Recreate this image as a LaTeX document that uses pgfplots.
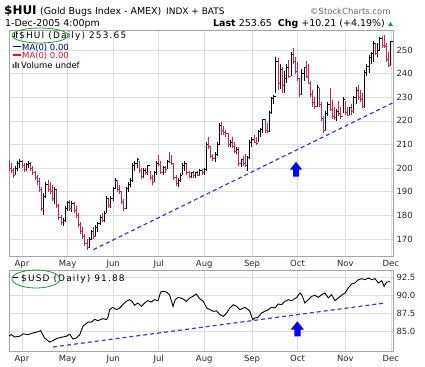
\documentclass[border=0pt]{standalone}
\usepackage{fontspec}
\setmainfont{DejaVu Sans}
\newfontfamily\legfont[LetterSpace=13]{DejaVu Sans}
\usepackage{pgfplots}
\pgfplotsset{compat=1.18}
\usepackage{pgfplotstable}
\definecolor{dn}{RGB}{196,40,80}
\definecolor{trend}{RGB}{60,60,200}
\definecolor{gridc}{RGB}{222,222,222}
\definecolor{framec}{RGB}{165,165,165}
\definecolor{ell}{RGB}{40,150,60}
\definecolor{maBlue}{RGB}{0,0,140}
\definecolor{maRed}{RGB}{210,20,40}
\definecolor{upg}{RGB}{0,160,60}
\pgfdeclareplotmark{ctick}{\pgfpathmoveto{\pgfqpoint{0pt}{0pt}}\pgfpathlineto{\pgfqpoint{\pgfplotmarksize}{0pt}}\pgfusepathqstroke}

\pgfplotstableread{
x h l c d
-6 203.4 199 200 1
-5 202 198 199 1
-4 200 196 197 1
-3 201 197 200 0
-2 203 199 202 0
-1 204 200 203 0
0 203.5 200 201 1
1 202 198.5 199.5 1
2 202 199 201.5 0
3 203 200 202 0
4 202.5 199 200 1
5 201 197 198 1
6 199 195 196 1
7 197 193 194.5 1
8 196 190 191 1
9 192 182 183 1
10 189.5 180.3 188 0
11 194 187.5 193 0
12 195 190 191 1
13 194 189 190 1
14 193 186 187 1
15 192 185 191 0
16 191 183 184 1
17 185 178 179 1
18 180 176 177 1
19 179 175.5 178 0
20 184 177 183 0
21 186 182 185.5 0
22 186.5 182 183 1
23 186 181.5 185 0
24 185.5 181 182 1
25 184 179 180 1
26 181 175 176 1
27 177 172 173 1
28 175 170 171 1
29 172 167 168 1
30 170 165.4 166.5 1
31 171 166 170 0
32 174 169.5 173 0
33 175 170 171 1
34 176 171 175 0
35 177 173 176.5 0
36 180 176 179 0
37 181 177 178 1
38 182 177 181 0
39 188 181 187 0
40 187 183 184 1
41 188 183 187 0
42 192 186 191.5 0
43 196 191 195 0
44 195 190 191 1
45 193 189 190 1
46 190 185 186 1
47 187 182 183 1
48 192 182.5 191.5 0
49 194 190 193 0
50 196 192 195 0
51 202 194 201 0
52 203 199 202 0
53 204.5 200 203.5 0
54 203 198 199 1
55 200 195.5 196.5 1
56 200 196 199 0
57 200 197 198 1
58 201.5 197 201 0
59 199 195 196 1
60 197 193 194 1
61 199 194 198 0
62 203 197 202 0
63 205.5 201 201.5 1
64 203 197.5 198 1
65 201 197 200.5 0
66 201 198 199.5 1
67 203.5 199.5 203 0
68 207 202 202.5 1
69 205.5 201.5 202 1
70 202 195 196 1
71 197 192.5 193.5 1
72 196 192 195 0
73 198 194 197 0
74 202 197 201 0
75 203 199 202 0
76 202 197 198 1
77 199 196 196.5 1
78 198.5 196 198 0
79 199 196 197 1
80 198.5 196 198 0
81 199 196.5 197 1
82 199.5 196.5 199 0
83 199.5 197 198 1
84 200 197 199.5 0
85 211 199 210 0
86 213 208 209 1
87 209 204.5 205 1
88 206 203 204 1
89 207 202.5 206 0
90 211 205 210 0
91 219 210 218 0
92 219.5 214 216 1
93 218 214 215 1
94 216 213 214.5 1
95 215 209 210 1
96 212 209 211 0
97 213 208.5 209 1
98 211 206.5 207 1
99 209 206 208 0
100 209 201 202 1
101 204 200.5 203.5 0
102 205 201 202 1
103 206 200.5 201 1
104 205 199 204.5 0
105 212 204 211 0
106 213 209 212 0
107 214 210.5 211 1
108 213 210 210.5 1
109 216 211 215.5 0
110 217 213 216.5 0
111 221 215 220.5 0
112 221 215 216 1
113 219 215 215.5 1
114 224 215.5 223.5 0
115 230 223 229.5 0
116 231 227 230.5 0
117 247 232 245 0
118 246.5 233 236 1
119 244 233.5 242 0
120 243 232 235 1
121 241 232 238 0
122 244 236 242.5 0
123 246 238 239 1
124 249 239 248 0
125 250.7 244 245 1
126 247 240 241 1
127 245 237 238 1
128 238 230 231 1
129 242 231 240 0
130 243 237 242.5 0
131 245.5 238 239 1
132 244 235.5 236 1
133 237 230 231 1
134 233 226 228 1
135 230 225 226 1
136 235 226 234 0
137 234 226 227 1
138 228 220 221 1
139 222 215 216 1
140 224 216 223 0
141 228 222 227 0
142 234 224 225 1
143 229 221 222 1
144 226 220.5 221.5 1
145 225 220 224 0
146 228.5 222 223 1
147 226 221 222 1
148 230 223.5 229 0
149 228.5 222.5 223.5 1
150 226 222 222.5 1
151 226 222.5 225.5 0
152 227 222.5 224 1
153 230.5 223.5 230 0
154 234.5 227 233 0
155 235 229 230 1
156 233 228 229 1
157 232 225.5 226 1
158 241.5 225.5 240.5 0
159 244 239 243 0
160 248 240.5 247 0
161 249 244 248.5 0
162 254 245 253 0
163 253 248 248.5 1
164 253 247 250 0
165 255.5 250 255 0
166 256 251 252 1
167 256.3 251 251.5 1
168 252.8 245 246 1
169 249 243 243.44 1
170 254 243.5 253.65 0
}\huidata

\pgfplotstableread{
x v
-6.4 84.37
-4.9 84.60
-3.4 84.27
-1.1 84.37
0.5 84.70
2.8 84.60
5.1 84.82
7.4 84.99
8.6 85.14
10.4 84.13
12.7 83.58
14.3 83.77
15.8 84.04
18.1 84.23
20.4 84.37
22.0 84.65
23.5 83.99
25.0 84.13
26.6 84.59
28.1 85.74
30.4 86.33
31.9 86.29
33.5 86.70
35.0 86.51
37.3 86.79
38.9 86.65
39.6 86.97
40.4 88.02
41.9 88.34
43.5 88.02
45.0 88.25
46.5 88.70
48.0 89.16
49.6 89.39
50.7 89.16
51.9 88.62
53.4 88.93
55.0 88.48
56.5 88.93
58.0 89.25
59.6 89.07
61.1 89.39
62.7 89.25
63.9 90.44
65.0 90.54
66.5 90.44
68.0 90.07
69.6 88.48
70.6 89.39
71.9 89.71
74.2 89.52
75.7 89.16
77.3 89.62
78.8 89.85
80.3 90.17
81.9 89.52
83.6 89.16
85.1 88.25
86.6 88.02
88.2 87.79
89.7 87.85
91.2 87.33
92.8 87.10
94.3 87.56
95.8 88.25
97.4 88.70
98.9 88.48
100.4 88.02
102.7 88.34
104.3 88.02
105.0 87.79
106.3 86.65
107.3 86.88
108.8 86.97
110.4 87.56
111.9 87.79
113.5 88.02
115.0 88.34
116.6 88.25
118.1 88.80
119.6 88.70
121.2 89.16
122.7 89.39
124.3 89.25
126.6 89.71
128.1 90.31
128.9 90.07
130.4 88.93
132.0 89.39
133.5 89.85
135.0 89.99
136.6 89.71
138.1 90.07
139.6 90.31
141.2 89.62
142.7 90.07
144.3 89.25
145.8 89.62
147.3 89.99
148.9 90.31
150.4 91.00
151.9 91.54
153.5 91.68
155.0 92.13
156.6 92.27
158.1 92.13
159.7 92.36
161.2 92.13
162.7 92.27
164.2 91.68
165.8 91.99
166.9 91.22
168.1 91.80
169.6 91.88
}\usddata

\pgfplotsset{panel/.style={
  scale only axis, width=384bp, xmin=-6, xmax=171,
  anchor=south west,
  axis line style={framec, line width=0.6bp},
  grid=major, major grid style={gridc, line width=0.6bp},
  xtick={0,21,42,63,84,106,127,149,170},
  xticklabels={Apr,May,Jun,Jul,Aug,Sep,Oct,Nov,Dec},
  tick style={draw=none},
  ticklabel style={font=\fontsize{8.5}{10}\selectfont, text=black!85},
  yticklabel pos=right,
  yticklabel style={anchor=west, xshift=0bp},
  xticklabel style={yshift=-1bp},
  /pgf/number format/assume math mode=true,
}}

\begin{document}
\begin{tikzpicture}
\path (0bp,0bp) rectangle (425bp,366bp);
% top panel
\begin{axis}[panel, at={(9bp,110bp)}, height=226bp, ymin=162.8, ymax=258.5,
  ytick={170,180,190,200,210,220,230,240,250}]
\addplot[only marks, mark=ctick, mark size=2bp, mark options={draw=black, line width=0.9bp},
  restrict expr to domain={\thisrow{d}}{0:0},
  error bars/.cd, y dir=both, y explicit, error mark=none,
  error bar style={black, line width=1bp}]
  table[x=x, y=c, y error plus expr=\thisrow{h}-\thisrow{c}, y error minus expr=\thisrow{c}-\thisrow{l}] {\huidata};
\addplot[only marks, mark=ctick, mark size=2bp, mark options={draw=dn, line width=0.9bp},
  restrict expr to domain={\thisrow{d}}{1:1},
  error bars/.cd, y dir=both, y explicit, error mark=none,
  error bar style={dn, line width=1bp}]
  table[x=x, y=c, y error plus expr=\thisrow{h}-\thisrow{c}, y error minus expr=\thisrow{c}-\thisrow{l}] {\huidata};
\addplot[trend, line width=1.2bp, dash pattern=on 4bp off 3bp] coordinates {(32.9,165.5) (171,227.7)};
\fill[blue] (axis cs:123.5,199.4) -- (axis cs:126.3,202.7) -- (axis cs:129.1,199.4) -- (axis cs:127.6,199.4) -- (axis cs:127.6,196.4) -- (axis cs:125,196.4) -- (axis cs:125,199.4) -- cycle;
\end{axis}
% bottom panel
\begin{axis}[panel, at={(9bp,15bp)}, height=81bp, ymin=82.35, ymax=93.46,
  ytick={85,87.5,90,92.5}, yticklabels={85.0,87.5,90.0,92.5}]
\addplot[black, line width=0.9bp] table[x=x, y=v] {\usddata};
\addplot[trend, line width=1.2bp, dash pattern=on 4bp off 3bp] coordinates {(14.3,82.9) (167.3,88.93)};
\fill[blue] (axis cs:123.8,85.27) -- (axis cs:126.9,86.42) -- (axis cs:130,85.27) -- (axis cs:128.4,85.27) -- (axis cs:128.4,84.37) -- (axis cs:125.5,84.37) -- (axis cs:125.5,85.27) -- cycle;
\end{axis}
\begin{scope}[x=1bp,y=1bp]
% header
\node[anchor=base west, inner sep=0, font=\bfseries\fontsize{12}{12}\selectfont] at (4,351.5) {\$HUI};
\node[anchor=base west, inner sep=0, font=\fontsize{9.5}{11}\selectfont] at (40,351.5) {(Gold Bugs Index - AMEX)};
\node[anchor=base west, inner sep=0, font=\fontsize{9}{11}\selectfont] at (166,351.5) {INDX + BATS};
\node[anchor=base west, inner sep=0, font=\fontsize{8.5}{10}\selectfont, text=black!60] at (310,351.5) {©StockCharts.com};
\node[anchor=base west, inner sep=0, font=\fontsize{9.5}{11}\selectfont] at (5,339.5) {1-Dec-2005 4:00pm};
\node[anchor=base east, inner sep=0, font=\fontsize{9.5}{11}\selectfont] at (385,339.5) {\textbf{Last} 253.65 \ \textbf{Chg} +10.21 (+4.19\%)};
\fill[upg] (388,340) -- (393,340) -- (390.5,344) -- cycle;
% top legend
\draw[black, line width=0.8bp] (14,329) -- (14,334) (13,330) -- (14,330) (14,333) -- (15,333) (16.5,328.5) -- (16.5,334) (16.5,333) -- (17.5,333);
\node[anchor=base west, inner sep=0, font=\legfont\fontsize{9}{10}\selectfont] at (19,327.5) {\$HUI (Daily) 253.65};
\draw[maBlue, line width=1.5bp] (13,319.5) -- (21,319.5);
\node[anchor=base west, inner sep=0, font=\fontsize{8.5}{10}\selectfont, text=maBlue] at (22,316) {MA(0) 0.00};
\draw[maRed, line width=1.5bp] (13,311) -- (21,311);
\node[anchor=base west, inner sep=0, font=\fontsize{8.5}{10}\selectfont, text=maRed] at (22,307.5) {MA(0) 0.00};
\fill[black!70] (12.5,298) rectangle (14,302) (15,298) rectangle (16.5,304) (17.5,298) rectangle (19,303);
\node[anchor=base west, inner sep=0, font=\fontsize{8.5}{10}\selectfont] at (21,298) {Volume undef};
\draw[ell, line width=0.8bp] (40,330.5) ellipse [x radius=28, y radius=7.5];
% bottom legend
\draw[black, line width=1.5bp] (12,88.5) -- (18,88.5);
\node[anchor=base west, inner sep=0, font=\legfont\fontsize{9}{10}\selectfont] at (21,84.5) {\$USD (Daily) 91.88};
\draw[ell, line width=0.8bp] (36,87) ellipse [x radius=24, y radius=9];
\end{scope}
\end{tikzpicture}
\end{document}
